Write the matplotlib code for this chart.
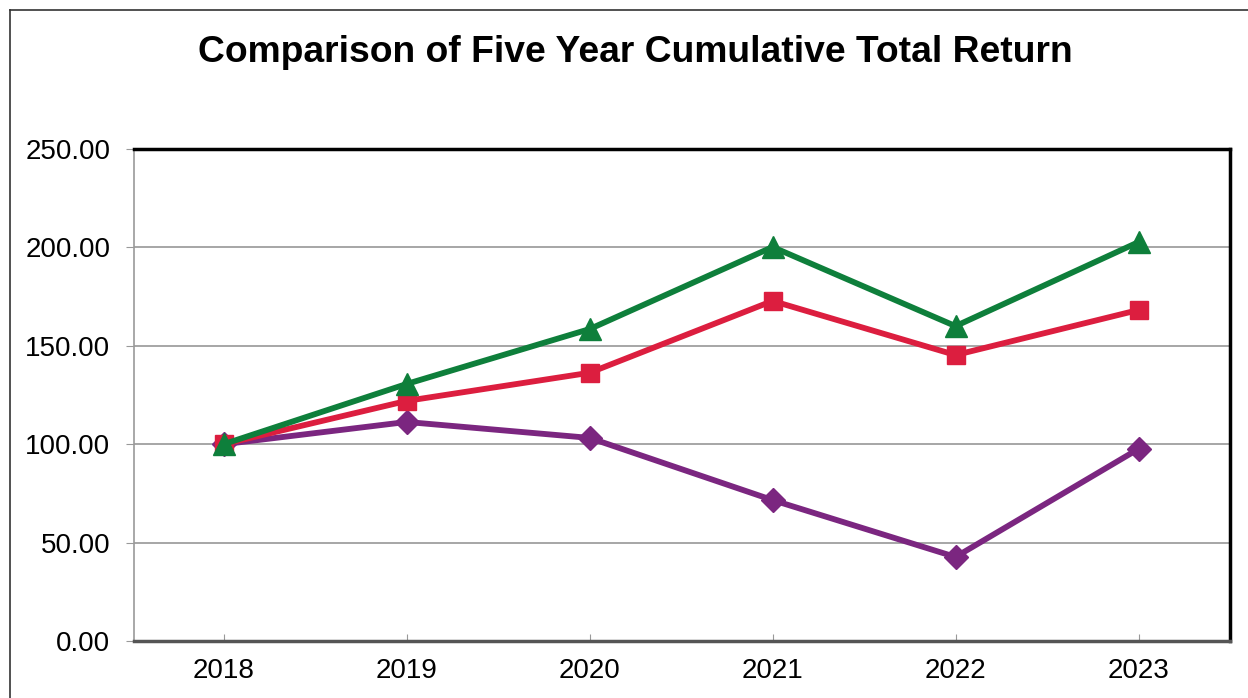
import matplotlib
matplotlib.use('Agg')
import matplotlib.pyplot as plt
from matplotlib.lines import Line2D

# chart data
years = ['2018', '2019', '2020', '2021', '2022', '2023']
series_green = [100.00, 130.6, 158.5, 200.2, 160.0, 202.7]
series_red = [100.00, 122.0, 136.3, 172.8, 145.3, 168.2]
series_purple = [100.00, 111.3, 103.2, 71.6, 42.7, 97.6]
y_ticks = [0, 50, 100, 150, 200, 250]

plt.rcParams['font.family'] = ['Liberation Sans', 'DejaVu Sans']

fig = plt.figure(figsize=(12.48, 6.98), dpi=100)
ax = fig.add_axes([134 / 1248, 57 / 698, 1096 / 1248, 492 / 698])

x = range(len(years))
ax.plot(x, series_purple, color='#7B2680', lw=4.2, marker='D', ms=12, zorder=3)
ax.plot(x, series_red, color='#DC1E3F', lw=4.2, marker='s', ms=13.5, zorder=4)
ax.plot(x, series_green, color='#0E7F3B', lw=4.2, marker='^', ms=16, zorder=5)

ax.set_xlim(-0.49, 5.5)
ax.set_ylim(0, 250)
ax.set_xticks(list(x))
ax.set_xticklabels(years)
ax.set_yticks(y_ticks)
ax.set_yticklabels([f'{v:.2f}' for v in y_ticks])
ax.tick_params(axis='both', labelsize=20, colors='#000000')
ax.tick_params(axis='x', direction='in', length=5, color='#999999', pad=12)
ax.tick_params(axis='y', direction='out', length=6, color='#999999', pad=11)

ax.yaxis.grid(True, color='#A6A6A6', lw=1.4)
ax.set_axisbelow(True)

ax.spines['top'].set_color('black')
ax.spines['top'].set_linewidth(2.5)
ax.spines['right'].set_color('black')
ax.spines['right'].set_linewidth(2.5)
ax.spines['bottom'].set_color('#555555')
ax.spines['bottom'].set_linewidth(2.5)
ax.spines['left'].set_color('#999999')
ax.spines['left'].set_linewidth(1.2)

fig.text(635 / 1248, 1 - 53 / 698, 'Comparison of Five Year Cumulative Total Return',
         ha='center', va='center', fontsize=26.8, fontweight='bold')

# outer frame (top and left edge)
fig.add_artist(Line2D([10 / 1248, 1], [1 - 10 / 698, 1 - 10 / 698],
                      transform=fig.transFigure, color='#333333', lw=1.2))
fig.add_artist(Line2D([10 / 1248, 10 / 1248], [0, 1 - 10 / 698],
                      transform=fig.transFigure, color='#333333', lw=1.2))

fig.savefig('out.png', dpi=100)
